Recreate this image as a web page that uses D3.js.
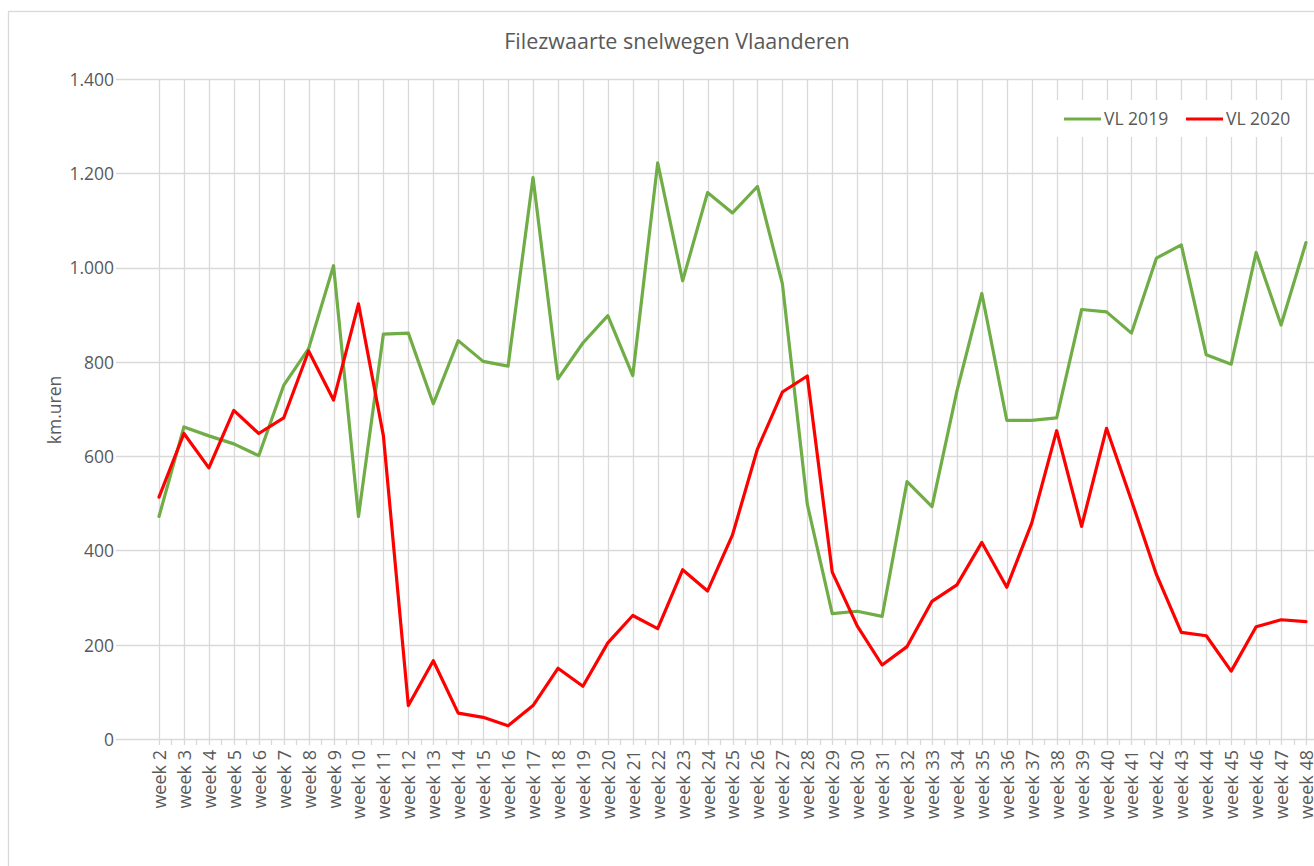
<!DOCTYPE html>
<html>
<head>
<meta charset="utf-8">
<script src="https://cdn.jsdelivr.net/npm/d3@7"></script>
<style>
  html, body { margin: 0; padding: 0; background: #fff; }
  svg { display: block; }
  text { font-family: "Open Sans", "Noto Sans", sans-serif; fill: #595959; }
</style>
</head>
<body>
<svg id="chart" width="1314" height="866"></svg>
<script>
const weeks = ["week 2","week 3","week 4","week 5","week 6","week 7","week 8","week 9","week 10","week 11",
  "week 12","week 13","week 14","week 15","week 16","week 17","week 18","week 19","week 20","week 21",
  "week 22","week 23","week 24","week 25","week 26","week 27","week 28","week 29","week 30","week 31",
  "week 32","week 33","week 34","week 35","week 36","week 37","week 38","week 39","week 40","week 41",
  "week 42","week 43","week 44","week 45","week 46","week 47","week 48"];

const vl2019 = [472,662,643,626,601,750,828,1004,472,859,861,711,845,
  801,791,1191,764,840,898,771,1222,972,1159,1116,1172,
  966,498,266,271,260,546,493,738,945,676,676,681,
  911,906,861,1020,1048,815,795,1032,878,1053];

const vl2020 = [513,648,575,697,648,681,823,719,923,643,71,166,55,
  46,28,71,150,112,204,262,234,359,314,433,615,
  736,770,354,240,157,196,292,327,417,322,458,654,
  451,659,506,349,226,219,144,238,253,249];

const yTicks = [0,200,400,600,800,1000,1200,1400];
const seriesNames = ["VL 2019","VL 2020"];
const seriesColors = ["#70ad47","#ff0000"];
const title = "Filezwaarte snelwegen Vlaanderen";
const yTitle = "km.uren";

const svg = d3.select("#chart");
const W = 1314, H = 866;

const x = d3.scalePoint().domain(weeks).range([159, 1306]);
const y = d3.scaleLinear().domain([0, 1400]).range([739, 79]);
const nl = d3.formatLocale({decimal: ",", thousands: ".", grouping: [3], currency: ["€",""]});
const fmt = nl.format(",d");

// outer chart border
svg.append("rect").attr("x", 8.5).attr("y", 11.5).attr("width", W + 20).attr("height", H + 20)
  .attr("fill", "#fff").attr("stroke", "#d9d9d9").attr("stroke-width", 1.3);

// title
svg.append("text").attr("x", 677).attr("y", 49).attr("text-anchor", "middle")
  .style("font-size", "21.5px").text(title);

// y labels
const yAxis = d3.axisLeft(y).tickValues(yTicks).tickFormat(fmt).tickSize(0).tickPadding(0);
const gy = svg.append("g").attr("transform", "translate(115,0)").call(yAxis);
gy.select(".domain").remove();
gy.selectAll("text").attr("x", -1).attr("dy", "0.36em").style("font-size", "17.5px").attr("fill", "#595959");

// horizontal gridlines
svg.append("g").selectAll("line").data(yTicks).join("line")
  .attr("x1", 116).attr("x2", W + 10)
  .attr("y1", d => Math.round(y(d)) + 0.5).attr("y2", d => Math.round(y(d)) + 0.5)
  .attr("stroke", "#d9d9d9").attr("stroke-width", 1.3);

// vertical gridlines (extend below axis as tick marks)
svg.append("g").selectAll("line").data(weeks).join("line")
  .attr("x1", d => Math.round(x(d)) + 0.5).attr("x2", d => Math.round(x(d)) + 0.5)
  .attr("y1", y(1400)).attr("y2", y(0) + 6)
  .attr("stroke", "#d9d9d9").attr("stroke-width", 1.3);

// minor ticks between categories
const step = x.step();
svg.append("g").selectAll("line").data(weeks.slice(0, -1)).join("line")
  .attr("x1", d => Math.round(x(d) + step / 2) + 0.5).attr("x2", d => Math.round(x(d) + step / 2) + 0.5)
  .attr("y1", y(0)).attr("y2", y(0) + 6)
  .attr("stroke", "#d9d9d9").attr("stroke-width", 1.3);

// x labels
const xAxis = d3.axisBottom(x).tickSize(0).tickPadding(0);
const gx = svg.append("g").attr("transform", `translate(0,${y(0)})`).call(xAxis);
gx.select(".domain").remove();
gx.selectAll("text")
  .attr("transform", "rotate(-90)")
  .attr("x", -11).attr("y", 0).attr("dy", "0.36em")
  .attr("text-anchor", "end")
  .style("font-size", "18px").attr("fill", "#595959");

// y title
svg.append("text").attr("transform", "translate(61,410) rotate(-90)")
  .attr("text-anchor", "middle").style("font-size", "17.5px").text(yTitle);

// legend background
svg.append("rect").attr("x", 1050).attr("y", 100).attr("width", 252).attr("height", 37).attr("fill", "#fff");

// lines
const line = d3.line().x((d, i) => x(weeks[i])).y(d => y(d));
[vl2019, vl2020].forEach((vals, i) => {
  svg.append("path").datum(vals).attr("d", line)
    .attr("fill", "none").attr("stroke", seriesColors[i]).attr("stroke-width", 3.2)
    .attr("stroke-linejoin", "round").attr("stroke-linecap", "round");
});

// legend
const legX = [1064, 1186];
seriesNames.forEach((n, i) => {
  svg.append("line").attr("x1", legX[i]).attr("x2", legX[i] + 37).attr("y1", 119).attr("y2", 119)
    .attr("stroke", seriesColors[i]).attr("stroke-width", 3.2);
  svg.append("text").attr("x", legX[i] + 40).attr("y", 119).attr("dy", "0.36em")
    .style("font-size", "17.5px").text(n);
});
</script>
</body>
</html>
